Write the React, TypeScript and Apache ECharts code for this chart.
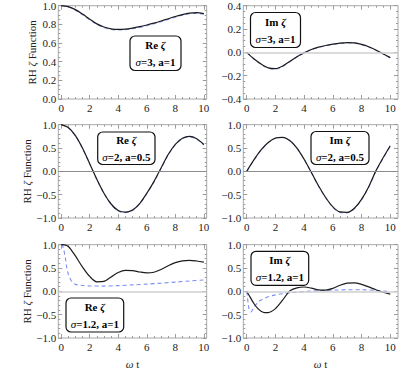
import React, { useEffect, useRef } from "react";
import * as echarts from "echarts";

// ---------- data ----------
const tHalf = [0, 0.5, 1, 1.5, 2, 2.5, 3, 3.5, 4, 4.5, 5, 5.5, 6, 6.5, 7, 7.5, 8, 8.5, 9, 9.5, 10];

// Panel 1: Re zeta, sigma=3, a=1
const re1Black = [1.0, 0.99, 0.958, 0.91, 0.856, 0.805, 0.772, 0.752, 0.746, 0.749, 0.76, 0.775, 0.793, 0.813, 0.836, 0.86, 0.884, 0.905, 0.92, 0.925, 0.916];
const re1Blue = [1.0, 0.986, 0.952, 0.903, 0.849, 0.798, 0.765, 0.745, 0.739, 0.742, 0.753, 0.768, 0.786, 0.806, 0.829, 0.853, 0.877, 0.898, 0.913, 0.918, 0.91];

// Panel 2: Im zeta, sigma=3, a=1
const im2Black = [0, -0.055, -0.1, -0.133, -0.14, -0.118, -0.078, -0.037, -0.003, 0.025, 0.045, 0.059, 0.07, 0.079, 0.084, 0.081, 0.068, 0.048, 0.02, -0.012, -0.045];
const im2Blue = [0, -0.058, -0.104, -0.137, -0.143, -0.12, -0.08, -0.039, -0.005, 0.023, 0.043, 0.057, 0.068, 0.077, 0.082, 0.079, 0.066, 0.046, 0.018, -0.014, -0.047];

// Panel 3: Re zeta, sigma=2, a=0.5
const re3Black = [1.0, 0.94, 0.765, 0.495, 0.165, -0.17, -0.47, -0.7, -0.84, -0.875, -0.83, -0.69, -0.47, -0.22, 0.07, 0.36, 0.58, 0.71, 0.75, 0.7, 0.575];
const re3Blue = [1.0, 0.935, 0.76, 0.49, 0.16, -0.175, -0.475, -0.705, -0.85, -0.885, -0.84, -0.7, -0.48, -0.23, 0.06, 0.35, 0.57, 0.7, 0.74, 0.69, 0.565];

// Panel 4: Im zeta, sigma=2, a=0.5
const im4Black = [0, 0.245, 0.46, 0.62, 0.715, 0.73, 0.66, 0.5, 0.26, -0.02, -0.31, -0.56, -0.76, -0.87, -0.88, -0.79, -0.6, -0.33, 0.01, 0.29, 0.55];
const im4Blue = [0, 0.24, 0.455, 0.615, 0.71, 0.725, 0.655, 0.495, 0.255, -0.025, -0.315, -0.565, -0.77, -0.88, -0.89, -0.8, -0.61, -0.34, 0.0, 0.28, 0.54];

// Panel 5: Re zeta, sigma=1.2, a=1
const t5Black = [0, 0.25, 0.5, 0.75, 1, 1.5, 2, 2.5, 3, 3.5, 4, 4.5, 5, 5.5, 6, 6.5, 7, 7.5, 8, 8.5, 9, 9.5, 10];
const re5Black = [1.0, 0.995, 0.96, 0.87, 0.76, 0.52, 0.32, 0.205, 0.215, 0.31, 0.405, 0.45, 0.445, 0.415, 0.395, 0.41, 0.47, 0.55, 0.615, 0.655, 0.665, 0.65, 0.625];
const t5Blue = [0, 0.08, 0.15, 0.22, 0.3, 0.4, 0.5, 0.65, 0.8, 1, 1.5, 2, 3, 4, 5, 6, 7, 8, 9, 10];
const re5Blue = [1.0, 0.99, 0.93, 0.84, 0.7, 0.5, 0.37, 0.26, 0.19, 0.15, 0.125, 0.115, 0.113, 0.122, 0.138, 0.155, 0.175, 0.198, 0.222, 0.245];

// Panel 6: Im zeta, sigma=1.2, a=1
const t6Black = [0, 0.25, 0.5, 0.75, 1, 1.25, 1.5, 2, 2.5, 3, 3.5, 4, 4.5, 5, 5.5, 6, 6.5, 7, 7.5, 8, 8.5, 9, 9.5, 10];
const im6Black = [0, -0.13, -0.26, -0.36, -0.425, -0.455, -0.455, -0.37, -0.19, 0.01, 0.075, 0.093, 0.07, 0.03, 0.025, 0.065, 0.13, 0.175, 0.182, 0.15, 0.095, 0.035, -0.02, -0.06];
const t6Blue = [0, 0.05, 0.1, 0.15, 0.2, 0.3, 0.45, 0.6, 0.8, 1, 1.5, 2, 2.5, 3, 3.5, 4, 4.5, 5, 6, 7, 8, 9, 9.5, 10];
const im6Blue = [0, -0.12, -0.25, -0.36, -0.42, -0.44, -0.37, -0.3, -0.23, -0.185, -0.115, -0.075, -0.05, -0.032, -0.018, -0.006, 0.005, 0.015, 0.027, 0.033, 0.033, 0.02, 0.006, -0.01];

// tick labels
const xTickLabels = [0, 2, 4, 6, 8, 10];
const yTicksRe1 = [0, 0.2, 0.4, 0.6, 0.8, 1.0];
const yTicksIm1 = [-0.4, -0.2, 0, 0.2, 0.4];
const yTicksPM1 = [-1, -0.5, 0, 0.5, 1];

// legend captions
const partNames = ["Re", "Im", "Re", "Im", "Re", "Im"];
const paramTexts = ["=3, a=1", "=3, a=1", "=2, a=0.5", "=2, a=0.5", "=1.2, a=1", "=1.2, a=1"];

// ---------- helpers ----------
const FONT = "Liberation Serif, serif";
const zip = (xs: number[], ys: number[]) => xs.map((x, i) => [x, ys[i]]);
const steps = (a: number, b: number, s: number) => {
  const out: number[] = [];
  for (let k = 0; a + k * s <= b + 1e-9; k++) out.push(+(a + k * s).toFixed(4));
  return out;
};
const without = (arr: number[], ex: number[]) => arr.filter((v) => !ex.some((e) => Math.abs(e - v) < 1e-6));
const fmtY = (v: number) => v.toFixed(1).replace("-", "\u2212");
const fmtX = (v: number) => String(Math.round(v));

const TICK = "#9c9c9c";

const LEFT = { left: 58.3, width: 148.4, xMin: -0.2, xMax: 10.2 };
const RIGHT = { left: 243.3, width: 154.7, xMin: -0.237, xMax: 10.54 };
const TOPS = [5.7, 124.7, 244.7];
const PH = 93.3;

const panels = [
  { col: LEFT, row: 0, yMin: 0, yMax: 1, yMajor: yTicksRe1, yMinorStep: 0.05, black: zip(tHalf, re1Black), blue: zip(tHalf, re1Blue), zero: null, box: [130, 36, 51, 34.5] },
  { col: RIGHT, row: 0, yMin: -0.4, yMax: 0.4, yMajor: yTicksIm1, yMinorStep: 0.05, black: zip(tHalf, im2Black), blue: zip(tHalf, im2Blue), zero: { c: "#cfcfcf", w: 1.6 }, box: [250.5, 12.5, 50, 35] },
  { col: LEFT, row: 1, yMin: -1, yMax: 1, yMajor: yTicksPM1, yMinorStep: 0.1, black: zip(tHalf, re3Black), blue: zip(tHalf, re3Blue), zero: { c: "#8c8c8c", w: 1 }, box: [97.7, 132, 57.3, 32.5] },
  { col: RIGHT, row: 1, yMin: -1, yMax: 1, yMajor: yTicksPM1, yMinorStep: 0.1, black: zip(tHalf, im4Black), blue: zip(tHalf, im4Blue), zero: { c: "#8c8c8c", w: 1 }, box: [311, 131.5, 58, 33] },
  { col: LEFT, row: 2, yMin: -1, yMax: 1, yMajor: yTicksPM1, yMinorStep: 0.1, black: zip(t5Black, re5Black), blue: zip(t5Blue, re5Blue), zero: { c: "#cfcfcf", w: 1.6 }, box: [66, 298, 57.7, 34] },
  { col: RIGHT, row: 2, yMin: -1, yMax: 1, yMajor: yTicksPM1, yMinorStep: 0.1, black: zip(t6Black, im6Black), blue: zip(t6Blue, im6Blue), zero: { c: "#cfcfcf", w: 1.6 }, box: [251, 251.3, 57.7, 34] },
];

function buildOption() {
  const grid: any[] = [];
  const xAxis: any[] = [];
  const yAxis: any[] = [];
  const series: any[] = [];
  const graphic: any[] = [];

  const richName = {
    r: { fontFamily: FONT, fontSize: 11, color: "#222" },
    i: { fontFamily: FONT, fontSize: 11, color: "#222", fontStyle: "italic" },
  };

  panels.forEach((p, gi) => {
    const c = p.col;
    grid.push({ left: c.left, top: TOPS[p.row], width: c.width, height: PH, show: true, borderColor: "#a8a8a8", borderWidth: 1, backgroundColor: "transparent" });

    const xMinor = without(steps(0, 10, 0.5), xTickLabels);
    const yMinor = without(steps(p.yMin, p.yMax, p.yMinorStep), p.yMajor);

    const baseAx = (extra: any) => ({
      type: "value",
      gridIndex: gi,
      axisLine: { show: false, onZero: false },
      splitLine: { show: false },
      minorTick: { show: false },
      ...extra,
    });
    const tickSet = (vals: number[], len: number) => ({ show: true, inside: true, length: len, customValues: vals, lineStyle: { color: TICK, width: 1 } });

    const xMainIndex = xAxis.length;
    ["bottom", "top"].forEach((pos) => {
      xAxis.push(
        baseAx({
          position: pos,
          min: c.xMin,
          max: c.xMax,
          axisTick: tickSet(xTickLabels, 4),
          axisLabel: pos === "bottom"
            ? { show: true, customValues: xTickLabels, formatter: fmtX, margin: 3, fontFamily: FONT, fontSize: 11, color: "#222" }
            : { show: false },
          ...(pos === "bottom" && p.row === 2
            ? { name: "{i|\u03c9}{r| t}", nameLocation: "middle", nameGap: 20, nameTextStyle: { rich: richName, fontFamily: FONT, fontSize: 11 } }
            : {}),
        })
      );
      xAxis.push(baseAx({ position: pos, min: c.xMin, max: c.xMax, axisTick: tickSet(xMinor, 2), axisLabel: { show: false } }));
    });

    const yMainIndex = yAxis.length;
    ["left", "right"].forEach((pos) => {
      yAxis.push(
        baseAx({
          position: pos,
          min: p.yMin,
          max: p.yMax,
          axisTick: tickSet(p.yMajor, 4),
          axisLabel: pos === "left"
            ? { show: true, customValues: p.yMajor, formatter: fmtY, margin: 2, fontFamily: FONT, fontSize: 11, color: "#222" }
            : { show: false },
          ...(pos === "left" && c === LEFT
            ? { name: "{r|RH }{i|\u03b6}{r| Function}", nameLocation: "middle", nameGap: 21, nameRotate: 90, nameTextStyle: { rich: richName, fontFamily: FONT, fontSize: 11 } }
            : {}),
        })
      );
      yAxis.push(baseAx({ position: pos, min: p.yMin, max: p.yMax, axisTick: tickSet(yMinor, 2), axisLabel: { show: false } }));
    });

    series.push({
      type: "line",
      xAxisIndex: xMainIndex,
      yAxisIndex: yMainIndex,
      data: p.blue,
      showSymbol: false,
      symbol: "none",
      smooth: 0.3,
      silent: true,
      lineStyle: { color: "#7d8ff2", width: 1.1, type: [4, 3] },
      markLine: p.zero
        ? { silent: true, symbol: ["none", "none"], label: { show: false }, lineStyle: { color: p.zero.c, width: p.zero.w, type: "solid" }, data: [{ yAxis: 0 }] }
        : undefined,
    });
    series.push({
      type: "line",
      xAxisIndex: xMainIndex,
      yAxisIndex: yMainIndex,
      data: p.black,
      showSymbol: false,
      symbol: "none",
      smooth: 0.3,
      silent: true,
      lineStyle: { color: "#1c1c1c", width: 1.2 },
    });

    const [bx, by, bw, bh] = p.box;
    const rich = {
      b: { fontFamily: FONT, fontSize: 11, fontWeight: "bold", fill: "#000", lineHeight: 17 },
      bi: { fontFamily: FONT, fontSize: 11, fontWeight: "bold", fontStyle: "italic", fill: "#000", lineHeight: 17 },
      i: { fontFamily: FONT, fontSize: 11, fontStyle: "italic", fill: "#000", lineHeight: 17 },
    };
    graphic.push({
      type: "group",
      children: [
        { type: "rect", shape: { x: bx, y: by, width: bw, height: bh, r: 5 }, style: { fill: "#fff", stroke: "#111", lineWidth: 1.2 } },
        {
          type: "text",
          x: bx + bw / 2,
          y: by + bh / 2,
          style: {
            text: `{b|${partNames[gi]} }{bi|\u03b6}\n{i|\u03c3}{b|${paramTexts[gi]}}`,
            rich,
            align: "center",
            verticalAlign: "middle",
            fill: "#000",
          },
        },
      ],
    });
  });

  return { animation: false, backgroundColor: "#fff", grid, xAxis, yAxis, series, graphic };
}

export default function App() {
  const ref = useRef<HTMLDivElement>(null);
  useEffect(() => {
    if (!ref.current) return;
    const chart = echarts.init(ref.current, undefined, { renderer: "svg" });
    chart.setOption(buildOption() as any);
    return () => chart.dispose();
  }, []);
  return <div ref={ref} style={{ position: "fixed", left: 0, top: 0, width: 415, height: 370, background: "#fff" }} />;
}
